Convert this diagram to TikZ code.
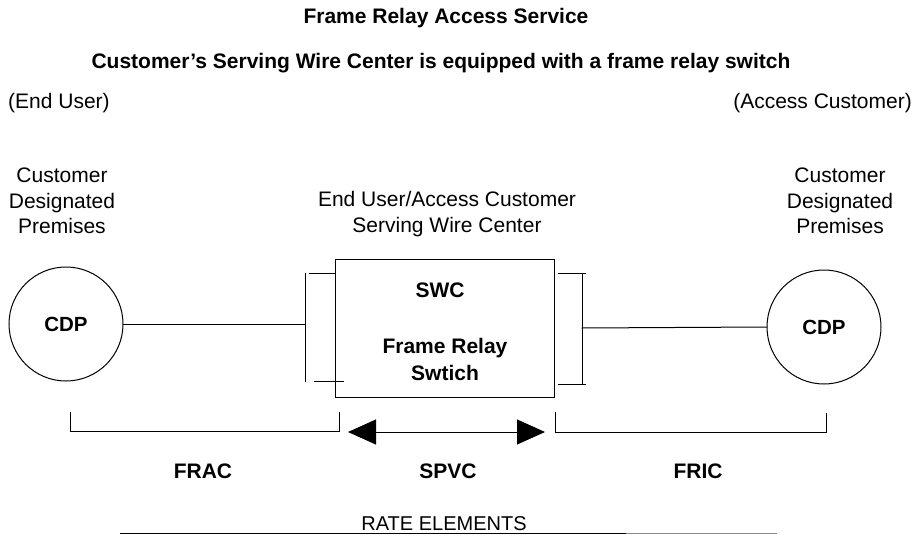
\documentclass[tikz,border=0pt]{standalone}
\usepackage{fontspec}
\setmainfont{Liberation Sans}
\usetikzlibrary{arrows.meta}
\tikzset{
  txt/.style={inner sep=0pt, font=\fontsize{21}{25.5}\selectfont, align=center},
  btxt/.style={txt, font=\fontsize{21}{26}\selectfont\bfseries},
  ln/.style={line width=1pt, line cap=rect},
  site/.style={circle, draw, line width=1pt, minimum size=114pt, inner sep=0pt, font=\fontsize{20.5}{23}\selectfont\bfseries},
  swcbox/.style={rectangle, draw, line width=1pt, minimum width=219pt, minimum height=138pt, inner sep=0pt},
  bigarrow/.style={line width=1pt, {Triangle[length=28pt,width=25pt]}-{Triangle[length=28pt,width=25pt]}}
}
\begin{document}
\begin{tikzpicture}[x=1pt,y=-1pt]
\path[use as bounding box, fill=white] (0,0) rectangle (918,535);

% titles
\node[btxt] (t1) at (446,18) {Frame Relay Access Service};
\node[btxt] (t2) at (441,63) {Customer's Serving Wire Center is equipped with a frame relay switch};
\node[txt, anchor=west] (eu) at (8,103) {(End User)};
\node[txt, anchor=east] (ac) at (912,103) {(Access Customer)};

\node[txt] (cdpl) at (62,201) {Customer\\Designated\\Premises};
\node[txt] (cdpr) at (840,201) {Customer\\Designated\\Premises};
\node[txt] (swcl) at (447,214) {End User/Access Customer\\Serving Wire Center};

% main shapes
\node[site] (cL) at (66,324) {CDP};
\node[site] (cR) at (824,327) {CDP};
\node[swcbox] (swc) at (444.5,328) {};
\node[btxt] (swct) at (440,290) {SWC};
\node[btxt, font=\fontsize{21}{27}\selectfont\bfseries] (frs) at (445,359) {Frame Relay\\Swtich};

% left bracket
\coordinate (lbT) at (305,273);
\coordinate (lbB) at (305,381);
\coordinate (lbM) at (305,324);
\draw[ln] (lbT) -- (lbB);
\draw[ln] (309,273) -- (swc.west |- 0,273);
\draw[ln] (314,381) -- (343,381);
\draw[ln] (cL.east) -- (lbM);

% right bracket
\coordinate (rbT) at (582,273);
\coordinate (rbB) at (582,384);
\coordinate (rbM) at (582,328);
\draw[ln] (rbT) -- (rbB);
\draw[ln] (558,273) -- (585,273);
\draw[ln] (558,384) -- (585,384);
\draw[ln] (rbM) -- (cR.west);

% bottom brackets
\draw[ln] (70,412) -- (70,431) -- (339,431) -- (339,412);
\draw[ln] (555,412) -- (555,432) -- (826,432) -- (826,413);

% SPVC arrow
\coordinate (aL) at (348,432);
\coordinate (aR) at (545,432);
\draw[bigarrow] (aL) -- (aR);

% labels
\node[btxt] (frac) at (203,471) {FRAC};
\node[btxt] (spvc) at (448,471) {SPVC};
\node[btxt] (fric) at (698,471) {FRIC};

% rate elements
\node[txt, anchor=base, font=\fontsize{20}{24}\selectfont] (rate) at (444,530.5) {RATE ELEMENTS};
\coordinate (rl) at (120,533.5);
\coordinate (rm) at (626,533.5);
\coordinate (rr) at (777,533.5);
\draw[line width=1.1pt] (rl) -- (rm);
\draw[line width=1pt, black!45] (rm) -- (rr);
\end{tikzpicture}
\end{document}
